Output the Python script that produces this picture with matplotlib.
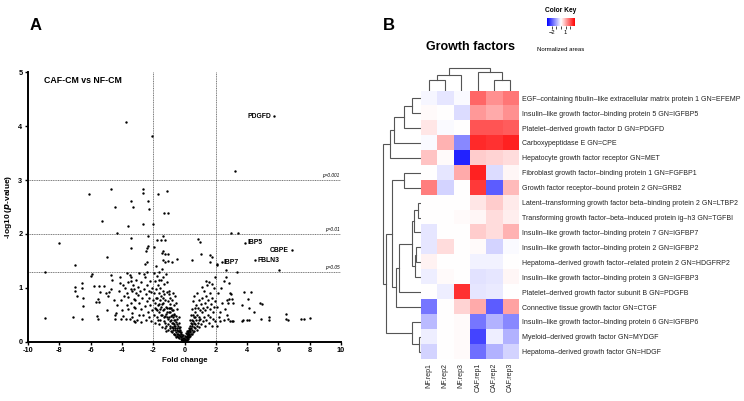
import numpy as np
import matplotlib.pyplot as plt

plt.rcParams['font.family'] = ['Liberation Sans', 'DejaVu Sans']
plt.rcParams['axes.unicode_minus'] = False

# ---- panel A: volcano plot (fold change, -log10 p) ----
fold_change = [
    -3.73, -2.09, 3.24, -6.1, -4.69, -2.62, -2.67, -1.68, -1.13, -4.46, -3.45, -3.26,
    -2.35, -2.30, -5.27, -3.58, -2.67, -2.0, -1.32, -1.04, -4.29, -2.35, -3.41, -3.39,
    -2.41, -2.32, -1.77, -1.39, -1.51, -1.26, -8.04, -8.93, -8.9, -6.99, -4.95, -5.9,
    -5.95, -2.46, -1.95, -1.35, -1.44, -1.27, -1.06, -0.5, 0.48, 1.07, 1.63, 1.76,
    1.63, -2.4, -2.5, -1.4, -1.27, -1.06, -0.8, 0.86, 0.99, 2.99, 3.39,
    # far left
    -7.02, -6.98, -6.55, -6.55, -6.85, -6.49, -6.49, -5.78, -5.44, -5.14, -5.4, -5.53,
    -5.63, -5.44, -4.97, -5.61, -5.53, -7.12, -6.55, -4.63, -4.85, -4.9, -4.5, -4.68,
    -4.42, -4.38, -4.42, -4.08, -3.74, -3.48, -3.14, -3.23, -4.12, -3.91, -3.82, -3.61,
    -3.44, -3.35, -3.65, -3.87, -3.61, -4.04, -3.4, -3.7, -3.18, -3.1, -3.23, -3.99,
    -3.61, -3.35, -3.7, -3.48, -4.68, -5.0, -4.2, -4.3, -3.9, -4.15,
    # -3.5 .. -2
    -3.45, -3.3, -3.2, -3.1, -3.0, -2.95, -2.9, -2.85, -2.8, -2.78, -2.7, -2.65,
    -2.6, -2.55, -2.5, -2.48, -2.45, -2.4, -2.38, -2.35, -2.3, -2.28, -2.25, -2.2,
    -2.18, -2.15, -2.12, -2.1, -2.05, -2.03, -3.35, -3.15, -3.05, -2.92, -2.75, -2.6,
    -3.25, -2.42, -2.88, -3.4,
    # -2 .. -1
    -1.98, -1.95, -1.92, -1.9, -1.88, -1.86, -1.84, -1.82, -1.8, -1.78, -1.75, -1.73,
    -1.7, -1.68, -1.66, -1.64, -1.62, -1.6, -1.58, -1.56, -1.54, -1.52, -1.5, -1.48,
    -1.46, -1.44, -1.42, -1.4, -1.38, -1.36, -1.34, -1.32, -1.3, -1.28, -1.26, -1.24,
    -1.22, -1.2, -1.18, -1.16, -1.14, -1.12, -1.1, -1.08, -1.06, -1.04, -1.02, -1.0,
    -1.9, -1.7, -1.55, -1.45, -1.35, -1.25, -1.15, -1.05, -1.65, -1.85, -1.6, -1.4,
    -1.2, -1.1, -1.3, -1.5, -1.75,
    # -1 .. 0
    -0.98, -0.96, -0.95, -0.93, -0.91, -0.9, -0.88, -0.86, -0.85, -0.83, -0.81, -0.8,
    -0.78, -0.76, -0.75, -0.73, -0.71, -0.7, -0.68, -0.66, -0.65, -0.63, -0.61, -0.6,
    -0.58, -0.56, -0.55, -0.53, -0.51, -0.5, -0.48, -0.46, -0.44, -0.42, -0.4, -0.38,
    -0.36, -0.34, -0.32, -0.3, -0.28, -0.26, -0.24, -0.22, -0.2, -0.18, -0.16, -0.14,
    -0.12, -0.1, -0.08, -0.06, -0.04, -0.02, -0.72, -0.6, -0.45, -0.35, -0.55,
    # 0 .. 1
    0.0, 0.02, 0.04, 0.06, 0.08, 0.1, 0.12, 0.14, 0.16, 0.18, 0.2, 0.22,
    0.24, 0.26, 0.28, 0.3, 0.32, 0.34, 0.36, 0.38, 0.4, 0.42, 0.45, 0.48,
    0.5, 0.52, 0.55, 0.58, 0.6, 0.62, 0.65, 0.68, 0.7, 0.72, 0.75, 0.78,
    0.8, 0.82, 0.85, 0.88, 0.9, 0.92, 0.95, 0.98, 0.15, 0.25, 0.35, 0.45,
    0.55, 0.65, 0.4, 0.3, 0.6,
    # 1 .. 2
    1.02, 1.05, 1.08, 1.1, 1.12, 1.15, 1.18, 1.2, 1.22, 1.25, 1.28, 1.3,
    1.33, 1.36, 1.4, 1.43, 1.46, 1.5, 1.53, 1.56, 1.6, 1.63, 1.66, 1.7,
    1.73, 1.76, 1.8, 1.83, 1.86, 1.9, 1.93, 1.96, 1.55, 1.35, 1.75, 1.98,
    # right side
    3.33, 6.06, 3.8, 4.25, 2.91, 3.01, 3.12, 3.67, 4.08, 4.14, 4.44, 4.82,
    4.97, 2.91, 3.12, 3.65, 3.76, 3.97, 4.12, 4.89, 5.38, 5.42, 6.46, 6.48,
    6.63, 7.42, 7.66, 8.04, 2.86, 2.54, 2.62, 2.73, 2.82, 2.95, 2.75, 2.6,
    2.7, 2.5, 2.3, 2.2, 2.1, 2.15, 2.05, 2.4, 2.35, 2.25, 2.62, 2.1,
    2.05, 2.8, 3.05,
    # extra points in the dense bottom of the V
    -0.95, -0.9, -0.85, -0.8, -0.75, -0.7, -0.65, -0.6, -0.55, -0.5, -0.45, -0.4,
    -0.35, -0.3, -0.25, -0.2, -0.15, -0.1, -0.05, 0.05, 0.1, 0.15, 0.2, 0.25,
    0.3, 0.35, 0.4, 0.45, 0.5, 0.55, 0.6, 0.7, 0.8, 0.9, -1.2, -1.0, -0.9, -0.8,
    -0.7, -0.65,
]
neg_log_p = [
    4.08, 3.82, 3.17, 2.75, 2.84, 2.84, 2.76, 2.75, 2.8, 2.5, 2.61, 2.5,
    2.62, 2.47, 2.24, 2.14, 2.19, 2.19, 2.38, 2.39, 2.02, 1.96, 1.93, 1.73,
    1.73, 1.77, 1.89, 1.96, 1.88, 1.89, 1.83, 1.30, 0.44, 1.43, 1.57, 1.26,
    1.22, 1.68, 1.75, 1.68, 1.65, 1.62, 1.62, 1.54, 1.51, 1.62, 1.60, 1.57,
    1.48, 1.48, 1.44, 1.52, 1.48, 1.50, 1.48, 1.91, 1.85, 2.01, 2.02,
    # far left
    1.01, 0.95, 1.09, 1.0, 0.85, 0.81, 0.67, 1.03, 1.04, 1.04, 0.92, 0.79,
    0.73, 0.74, 0.58, 0.48, 0.42, 0.45, 0.42, 1.14, 0.93, 0.84, 0.78, 0.98,
    0.5, 0.53, 0.43, 0.43, 0.42, 0.43, 0.37, 0.38, 1.09, 1.06, 1.0, 1.11,
    1.13, 0.94, 0.91, 0.85, 0.83, 0.78, 0.72, 0.68, 0.78, 0.9, 0.65, 0.59,
    0.6, 0.53, 1.27, 1.24, 1.24, 0.9, 0.95, 0.68, 0.48, 1.2,
    # -3.5 .. -2
    1.21, 1.05, 0.98, 1.15, 0.87, 1.02, 0.72, 0.95, 0.6, 1.1, 0.82, 0.5,
    0.98, 0.66, 1.2, 0.4, 0.88, 0.75, 1.05, 0.55, 0.95, 0.45, 0.82, 1.12,
    0.68, 0.38, 0.92, 0.58, 1.0, 0.78, 0.45, 0.62, 0.4, 0.5, 0.36, 1.25,
    0.8, 1.3, 1.28, 0.98,
    # -2 .. -1
    1.28, 0.9, 0.5, 1.12, 0.72, 0.35, 1.4, 0.98, 0.6, 0.82, 1.22, 0.45,
    1.05, 0.68, 0.9, 0.32, 1.3, 0.55, 0.78, 1.0, 0.4, 1.15, 0.65, 0.85,
    0.28, 1.35, 0.5, 0.95, 0.72, 1.2, 0.38, 0.6, 0.88, 1.08, 0.25, 0.48,
    0.78, 1.25, 0.65, 0.3, 0.92, 0.55, 1.1, 0.42, 0.75, 0.22, 0.62, 0.88,
    0.62, 0.4, 0.6, 0.7, 0.82, 0.35, 0.45, 0.32, 1.15, 0.82, 0.7, 0.58,
    0.52, 0.62, 0.45, 0.5, 0.58,
    # -1 .. 0
    0.95, 0.45, 0.7, 0.3, 0.55, 0.82, 0.2, 0.4, 0.62, 0.28, 0.5, 0.78,
    0.18, 0.35, 0.58, 0.25, 0.45, 0.68, 0.15, 0.32, 0.52, 0.22, 0.4, 0.12,
    0.3, 0.48, 0.18, 0.36, 0.1, 0.25, 0.42, 0.15, 0.3, 0.08, 0.2, 0.35,
    0.12, 0.25, 0.06, 0.18, 0.1, 0.22, 0.05, 0.14, 0.08, 0.03, 0.1, 0.05,
    0.02, 0.06, 0.01, 0.03, 0.0, 0.02, 0.9, 0.85, 0.6, 0.45, 0.72,
    # 0 .. 1
    0.01, 0.03, 0.0, 0.05, 0.02, 0.08, 0.04, 0.1, 0.06, 0.14, 0.08, 0.18,
    0.12, 0.22, 0.15, 0.26, 0.18, 0.3, 0.2, 0.4, 0.25, 0.5, 0.3, 0.6,
    0.22, 0.38, 0.75, 0.28, 0.45, 0.85, 0.32, 0.55, 0.25, 0.68, 0.4, 0.9,
    0.3, 0.5, 0.62, 0.35, 0.78, 0.45, 0.28, 0.58, 0.2, 0.05, 0.1, 0.15,
    0.5, 0.62, 0.35, 0.12, 0.2,
    # 1 .. 2
    0.42, 0.7, 0.32, 1.02, 0.55, 0.82, 0.38, 0.62, 0.95, 0.45, 0.72, 0.3,
    0.58, 0.85, 0.4, 0.65, 1.05, 0.5, 0.78, 0.35, 0.6, 0.9, 0.45, 0.7,
    0.3, 0.82, 0.55, 0.42, 1.0, 0.65, 0.38, 0.75, 1.1, 1.12, 1.08, 1.2,
    # right side
    1.29, 1.34, 0.93, 0.93, 0.90, 0.79, 0.72, 0.68, 0.79, 0.62, 0.56, 0.72,
    0.70, 0.39, 0.39, 0.39, 0.40, 0.40, 0.40, 0.42, 0.45, 0.40, 0.52, 0.43,
    0.41, 0.43, 0.43, 0.44, 1.09, 1.12, 1.2, 0.78, 0.8, 0.88, 0.72, 0.6,
    0.5, 0.4, 0.38, 0.45, 0.65, 0.9, 0.3, 0.72, 1.0, 0.55, 1.34, 1.45,
    1.42, 0.42, 0.38,
    # extra points in the dense bottom of the V
    0.38, 0.25, 0.48, 0.35, 0.22, 0.3, 0.4, 0.26, 0.08, 0.33, 0.22, 0.14,
    0.2, 0.28, 0.15, 0.18, 0.03, 0.12, 0.07, 0.1, 0.16, 0.04, 0.2, 0.17,
    0.09, 0.24, 0.15, 0.4, 0.32, 0.18, 0.35, 0.45, 0.22, 0.4, 0.2, 0.55, 0.62, 0.58,
    0.5, 0.15,
]

# labelled genes: name, fold change, -log10 p, label side
gene_names = ['PDGFD', 'IBP5', 'CBPE', 'FBLN3', 'IBP7']
gene_fc = [5.75, 3.88, 6.85, 4.5, 2.37]
gene_p = [4.18, 1.84, 1.70, 1.51, 1.47]
gene_side = ['left', 'right', 'left', 'right', 'right']

p_levels = [3, 2, 1.3]
p_labels = ['p=0.001', 'p=0.01', 'p=0.05']
fc_cut = [-2, 2]

# ---- panel B: heatmap ----
samples = ['NF.rep1', 'NF.rep2', 'NF.rep3', 'CAF.rep1', 'CAF.rep2', 'CAF.rep3']
proteins = [
    'EGF\u2013containing fibulin\u2013like extracellular matrix protein 1 GN=EFEMP',
    'Insulin\u2013like growth factor\u2013binding protein 5 GN=IGFBP5',
    'Platelet\u2013derived growth factor D GN=PDGFD',
    'Carboxypeptidase E GN=CPE',
    'Hepatocyte growth factor receptor GN=MET',
    'Fibroblast growth factor\u2013binding protein 1 GN=FGFBP1',
    'Growth factor receptor\u2013bound protein 2 GN=GRB2',
    'Latent\u2013transforming growth factor beta\u2013binding protein 2 GN=LTBP2',
    'Transforming growth factor\u2013beta\u2013induced protein ig\u2013h3 GN=TGFBI',
    'Insulin\u2013like growth factor\u2013binding protein 7 GN=IGFBP7',
    'Insulin\u2013like growth factor\u2013binding protein 2 GN=IGFBP2',
    'Hepatoma\u2013derived growth factor\u2013related protein 2 GN=HDGFRP2',
    'Insulin\u2013like growth factor\u2013binding protein 3 GN=IGFBP3',
    'Platelet\u2013derived growth factor subunit B GN=PDGFB',
    'Connective tissue growth factor GN=CTGF',
    'Insulin\u2013like growth factor\u2013binding protein 6 GN=IGFBP6',
    'Myeloid\u2013derived growth factor GN=MYDGF',
    'Hepatoma\u2013derived growth factor GN=HDGF',
]
areas = [
    [-0.1, -0.3, -0.05, 1.8, 1.3, 1.6],
    [0.05, 0.0, -0.4, 1.2, 1.0, 1.3],
    [0.3, -0.05, 0.0, 2.0, 2.0, 1.9],
    [-0.05, 0.9, -1.4, 2.5, 2.4, 2.6],
    [0.7, 0.05, -2.6, 0.6, 0.5, 0.4],
    [0.0, -0.3, 1.0, 2.6, -0.4, 0.1],
    [1.5, -0.5, 0.0, 2.3, -1.9, 0.8],
    [0.02, 0.0, 0.0, 0.3, 0.6, 0.25],
    [0.0, 0.0, 0.05, 0.1, 0.4, 0.2],
    [-0.3, 0.0, 0.0, 0.6, 0.4, 0.9],
    [-0.3, 0.4, 0.0, 0.05, -0.5, -0.05],
    [0.15, 0.0, 0.0, -0.15, -0.15, 0.0],
    [-0.2, 0.05, 0.0, -0.35, -0.3, 0.1],
    [0.0, -0.2, 2.4, -0.3, -0.25, 0.0],
    [-1.6, 0.0, 0.5, 1.0, -1.9, 1.1],
    [-0.8, 0.0, 0.05, -1.6, -0.9, -1.4],
    [-0.2, 0.0, 0.05, -2.2, -0.2, -0.9],
    [-0.5, 0.0, 0.05, -1.7, -0.9, -0.5],
]
# dendrogram merges: (node a, node b, height in px); new nodes numbered after leaves
row_merges = [(0, 1, 9), (18, 2, 17), (19, 3, 27), (20, 4, 31), (5, 6, 17),
              (7, 8, 3), (23, 9, 7), (10, 11, 5), (25, 12, 6), (24, 26, 9),
              (27, 13, 22), (28, 14, 25), (22, 29, 29), (16, 17, 2), (31, 15, 9),
              (30, 32, 35), (21, 33, 38)]
col_merges = [(0, 1, 11), (6, 2, 16), (4, 5, 11), (3, 8, 19), (7, 9, 22.3)]

W, H = 744, 401


def box(x0, y0, x1, y1):
    return [x0 / W, 1 - y1 / H, (x1 - x0) / W, (y1 - y0) / H]


fig = plt.figure(figsize=(7.44, 4.01), dpi=100)

# ---------------- panel A ----------------
ax = fig.add_axes(box(28, 72.3, 341, 341.7))
ax.scatter(fold_change, neg_log_p, s=3, c='black', lw=0, zorder=3)
ax.scatter(gene_fc, gene_p, s=3, c='black', lw=0, zorder=3)
for name, x, y, side in zip(gene_names, gene_fc, gene_p, gene_side):
    if side == 'left':
        ax.text(x - 0.2, y, name, ha='right', va='center', fontsize=4.9, fontweight='bold')
    else:
        ax.text(x + 0.15, y, name, ha='left', va='center', fontsize=4.9, fontweight='bold')
for lv, lab in zip(p_levels, p_labels):
    ax.axhline(lv, color='#444444', lw=0.5, ls=(0, (1.5, 1)), zorder=1)
    ax.text(9.9, lv + 0.04, lab, ha='right', va='bottom', fontsize=3.4, style='italic')
for fc in fc_cut:
    ax.axvline(fc, color='#444444', lw=0.5, ls=(0, (1.5, 1)), zorder=1)
ax.text(-8.98, 4.85, 'CAF-CM vs NF-CM', fontsize=6.3, fontweight='bold', va='center')
ax.set_xlim(-10, 10)
ax.set_ylim(0, 5)
ax.set_xticks(range(-10, 11, 2))
ax.set_yticks(range(0, 6))
for s in ['top', 'right']:
    ax.spines[s].set_visible(False)
for s in ['left', 'bottom']:
    ax.spines[s].set_linewidth(1.4)
ax.tick_params(width=1.0, length=2.5, labelsize=5.3, pad=1.5)
for t in ax.get_xticklabels() + ax.get_yticklabels():
    t.set_fontweight('bold')
ax.set_xlabel('Fold change', fontsize=5.6, fontweight='bold', labelpad=2)
ax.set_ylabel(r'-log10 ($\mathbfit{p}$-value)', fontsize=6, fontweight='bold', labelpad=3)
fig.text(30 / W, 1 - 25 / H, 'A', fontsize=12, fontweight='bold', va='center')
fig.text(383 / W, 1 - 25 / H, 'B', fontsize=12, fontweight='bold', va='center')

# ---------------- panel B ----------------
hm = fig.add_axes(box(420.7, 90.7, 518.3, 359.3))
im = hm.imshow(np.array(areas), cmap='bwr', vmin=-3, vmax=3, aspect='auto',
               interpolation='nearest')
hm.yaxis.tick_right()
hm.set_yticks(range(len(proteins)))
hm.set_yticklabels(proteins, fontsize=5.0, color='#222222')
hm.set_xticks(range(len(samples)))
hm.set_xticklabels(samples, rotation=90, fontsize=5, color='#222222')
hm.tick_params(length=0, pad=2.5)
for s in hm.spines.values():
    s.set_visible(False)


def draw_dendro(axd, merges, n, vertical):
    pos = list(range(n))
    hgt = [0.0] * n
    for a, b, h in merges:
        xs = [pos[a], pos[a], pos[b], pos[b]]
        ys = [hgt[a], h, h, hgt[b]]
        if vertical:
            axd.plot(xs, ys, color='#555555', lw=0.8, solid_joinstyle='miter')
        else:
            axd.plot(ys, xs, color='#555555', lw=0.8, solid_joinstyle='miter')
        pos.append((pos[a] + pos[b]) / 2)
        hgt.append(h)


cd = fig.add_axes(box(420.7, 64, 518.3, 90.7))
draw_dendro(cd, col_merges, len(samples), True)
cd.set_xlim(-0.5, len(samples) - 0.5)
cd.set_ylim(0, 26.7)
cd.axis('off')

rd = fig.add_axes(box(380, 90.7, 420.7, 359.3))
draw_dendro(rd, row_merges, len(proteins), False)
rd.set_ylim(len(proteins) - 0.5, -0.5)
rd.set_xlim(40.7, 0)
rd.axis('off')

fig.text(470 / W, 1 - 47 / H, 'Growth factors', fontsize=9, fontweight='bold',
         ha='center', va='center')

ck = fig.add_axes(box(547, 18, 575, 26))
cb = fig.colorbar(im, cax=ck, orientation='horizontal')
cb.outline.set_visible(False)
cb.set_ticks([-2, -1, 0, 1, 2])
cb.set_ticklabels(['\u22122', '', '', '1', ''])
ck.tick_params(length=2, width=0.5, labelsize=4.2, pad=1)
fig.text(561 / W, 1 - 10 / H, 'Color Key', fontsize=4.8, fontweight='bold',
         ha='center', va='center')
fig.text(561 / W, 1 - 49.5 / H, 'Normalized areas', fontsize=4.3,
         ha='center', va='center')

fig.savefig('out.png', dpi=100)
